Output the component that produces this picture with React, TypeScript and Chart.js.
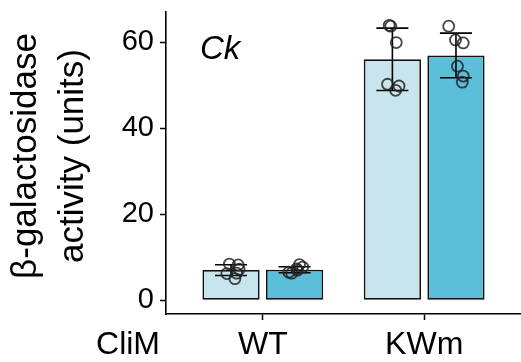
import React, { useEffect, useRef } from "react";
import { Chart, registerables } from "chart.js";

Chart.register(...registerables);

// ---------- data ----------
const categories = ["WT", "KWm"];
const leftAxisLabel = "CliM";
const panelLabel = "Ck";
const yTitle = ["β-galactosidase", "activity (units)"];
const yTickValues = [0, 20, 40, 60];

const meanLight = [7.0, 56.0];
const meanDark = [7.1, 56.9];
const sdLight = [1.25, 7.25];
const sdDark = [0.7, 5.2];

const pointsLightWT = [8.4, 8.2, 6.2, 6.3, 5.0, 7.2];
const pointsLightKWm = [63.9, 63.7, 59.9, 50.2, 49.8, 48.8];
const pointsDarkWT = [8.3, 7.7, 7.3, 7.0, 6.5, 6.3];
const pointsDarkKWm = [63.7, 60.5, 59.8, 54.4, 52.1, 50.7];

const jitterLightWT = [-0.01, 0.044, -0.026, 0.035, 0.024, 0.05];
const jitterLightKWm = [-0.02, -0.01, 0.024, -0.03, 0.041, 0.02];
const jitterDarkWT = [0.03, 0.05, 0.012, 0.018, -0.036, -0.018];
const jitterDarkKWm = [-0.045, -0.003, 0.045, 0.009, 0.045, 0.039];

// ---------- style ----------
const FONT = "'Liberation Sans', Arial, Helvetica, sans-serif";
const LIGHT = "#c8e4ec";
const DARK = "#5bbfda";
const CAT_PCT = 0.788;
const BAR_PCT = 0.9;
const GROUP_SHIFT = CAT_PCT / 4;

function buildPoints(groups: number[][], jitters: number[][], shift: number) {
  const out: { x: number; y: number }[] = [];
  groups.forEach((vals, i) => {
    vals.forEach((v, j) => out.push({ x: i + 1 + shift + jitters[i][j], y: v }));
  });
  return out;
}

const errorBarPlugin = {
  id: "errorBars",
  afterDatasetDraw(chart: any, args: any) {
    const sets: Record<number, [number[], number[]]> = {
      0: [meanLight, sdLight],
      1: [meanDark, sdDark],
    };
    const entry = sets[args.index];
    if (!entry) return;
    const [means, sds] = entry;
    const ctx = chart.ctx;
    const y = chart.scales.y;
    const meta = chart.getDatasetMeta(args.index);
    ctx.save();
    ctx.strokeStyle = "#000";
    ctx.lineWidth = 1.6;
    meta.data.forEach((bar: any, i: number) => {
      const x = bar.x;
      const hw = bar.width * 0.28;
      const top = y.getPixelForValue(means[i] + sds[i]);
      const bot = y.getPixelForValue(means[i] - sds[i]);
      ctx.beginPath();
      ctx.moveTo(x, top);
      ctx.lineTo(x, bot);
      ctx.moveTo(x - hw, top);
      ctx.lineTo(x + hw, top);
      ctx.moveTo(x - hw, bot);
      ctx.lineTo(x + hw, bot);
      ctx.stroke();
    });
    ctx.restore();
  },
};

const textPlugin = {
  id: "extraText",
  afterDraw(chart: any) {
    const { ctx, chartArea } = chart;
    ctx.save();
    ctx.fillStyle = "#000";
    ctx.textBaseline = "alphabetic";
    ctx.textAlign = "left";
    ctx.font = `italic 33px ${FONT}`;
    ctx.fillText(panelLabel, chartArea.left + 34, chartArea.top + 47);
    ctx.textAlign = "right";
    ctx.font = `32px ${FONT}`;
    ctx.fillText(leftAxisLabel, chartArea.left - 6, chartArea.bottom + 40);
    // y-axis title (two centred lines, rotated)
    const cy = (chartArea.top + chartArea.bottom) / 2 - 7;
    ctx.translate(0, cy);
    ctx.rotate(-Math.PI / 2);
    ctx.textAlign = "center";
    ctx.font = `35px ${FONT}`;
    ctx.fillText(yTitle[0], 0, 36);
    ctx.fillText(yTitle[1], 0, 83);
    ctx.restore();
  },
};

export default function App() {
  const ref = useRef<HTMLCanvasElement | null>(null);

  useEffect(() => {
    if (!ref.current) return;
    const chart = new Chart(ref.current, {
      type: "bar",
      data: {
        datasets: [
          {
            type: "bar",
            label: "light",
            data: categories.map((_, i) => ({ x: i + 1, y: meanLight[i] })),
            backgroundColor: LIGHT,
            borderColor: "#111",
            borderWidth: 1.7,
            borderSkipped: false,
            categoryPercentage: CAT_PCT,
            barPercentage: BAR_PCT,
            order: 1,
          } as any,
          {
            type: "bar",
            label: "dark",
            data: categories.map((_, i) => ({ x: i + 1, y: meanDark[i] })),
            backgroundColor: DARK,
            borderColor: "#111",
            borderWidth: 1.7,
            borderSkipped: false,
            categoryPercentage: CAT_PCT,
            barPercentage: BAR_PCT,
            order: 1,
          } as any,
          {
            type: "scatter",
            label: "pts light",
            data: buildPoints([pointsLightWT, pointsLightKWm], [jitterLightWT, jitterLightKWm], -GROUP_SHIFT),
            pointRadius: 5.5,
            pointBackgroundColor: "rgba(0,0,0,0)",
            pointBorderColor: "rgba(35,35,35,0.85)",
            pointBorderWidth: 1.8,
            showLine: false,
            order: 0,
          } as any,
          {
            type: "scatter",
            label: "pts dark",
            data: buildPoints([pointsDarkWT, pointsDarkKWm], [jitterDarkWT, jitterDarkKWm], GROUP_SHIFT),
            pointRadius: 5.5,
            pointBackgroundColor: "rgba(0,0,0,0)",
            pointBorderColor: "rgba(35,35,35,0.85)",
            pointBorderWidth: 1.8,
            showLine: false,
            order: 0,
          } as any,
        ],
      },
      options: {
        animation: false,
        responsive: true,
        maintainAspectRatio: false,
        layout: { autoPadding: false, padding: { top: 12, right: 0, left: 0, bottom: 0 } },
        plugins: {
          legend: { display: false },
          tooltip: { enabled: false },
        },
        scales: {
          x: {
            type: "linear",
            min: 0.4,
            max: 2.6,
            offset: false,
            grid: {
              offset: false,
              drawOnChartArea: false,
              drawTicks: true,
              tickLength: 6,
              tickColor: "#000",
              tickWidth: 1.5,
            },
            border: { display: true, color: "#000", width: 1.6 },
            afterBuildTicks: (s: any) => {
              s.ticks = categories.map((_, i) => ({ value: i + 1 }));
            },
            afterFit: (s: any) => {
              s.height = 48;
              s.paddingLeft = 0;
              s.paddingRight = 0;
            },
            ticks: {
              autoSkip: false,
              maxRotation: 0,
              padding: 6,
              color: "#000",
              font: { size: 32, family: FONT },
              callback: (_v: any, i: number) => categories[i],
            },
          },
          y: {
            type: "linear",
            min: -3.2,
            max: 67,
            grid: {
              drawOnChartArea: false,
              drawTicks: true,
              tickLength: 6,
              tickColor: "#000",
              tickWidth: 1.5,
            },
            border: { display: true, color: "#000", width: 1.6 },
            afterBuildTicks: (s: any) => {
              s.ticks = yTickValues.map((v) => ({ value: v }));
            },
            afterFit: (s: any) => {
              s.width = 166;
              s.paddingTop = 0;
              s.paddingBottom = 0;
            },
            ticks: {
              padding: 6,
              color: "#000",
              font: { size: 29, family: FONT },
            },
            title: { display: false },
          },
        },
      },
      plugins: [errorBarPlugin, textPlugin],
    });
    return () => chart.destroy();
  }, []);

  return (
    <div style={{ position: "fixed", left: 0, top: 0, width: 521, height: 362, background: "#fff" }}>
      <canvas ref={ref} />
    </div>
  );
}
